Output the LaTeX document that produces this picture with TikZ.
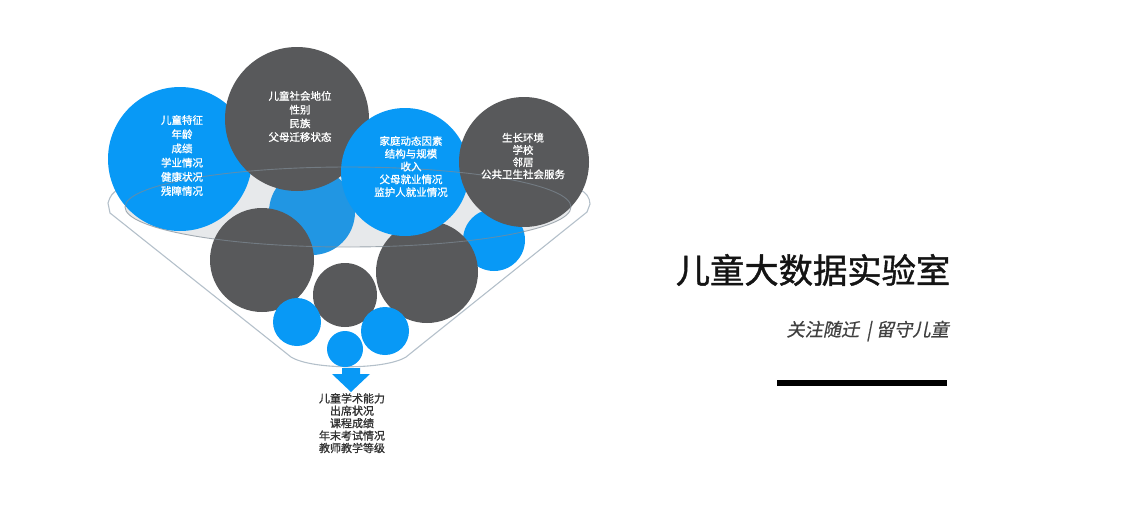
\documentclass[tikz,border=0pt]{standalone}
\usepackage{fontspec}
\setmainfont{Noto Sans CJK SC}
\newfontfamily\cjkit[FakeSlant=0.2,FakeBold=0.6]{Noto Sans CJK SC}
\newfontfamily\cjkb[FakeBold=1.2]{Noto Sans CJK SC}
\newfontfamily\cjkt[FakeBold=1.2]{Noto Sans CJK SC}
\definecolor{cblue}{HTML}{0899F6}
\definecolor{cdark}{HTML}{58595B}
\definecolor{cmid}{HTML}{2196E3}
\definecolor{crim}{HTML}{B4C0CA}
\definecolor{cfill}{HTML}{E7E9EB}
\definecolor{cline}{HTML}{7E8A94}
\tikzset{
  bub/.style={circle, inner sep=0pt, draw=none, minimum size=2*#1},
  bblue/.style={bub=#1, fill=cblue},
  bdark/.style={bub=#1, fill=cdark},
  ctext/.style={text=white, align=center, inner sep=0pt},
  rim/.style={draw=crim, line width=1.1pt},
}
\begin{document}
\begin{tikzpicture}[x=1pt,y=-1pt]
\useasboundingbox (0,0) rectangle (1140,520);
% funnel outline (behind circles)
\draw[rim] (108,203) .. controls (110,196) and (113,192) .. (118,190)
  .. controls (250,178) and (450,178) .. (580,190)
  .. controls (586,192) and (590,198) .. (590,204) -- (587,212) -- (406,357)
  .. controls (385,370) and (312,370) .. (291,357) -- (110,213) -- cycle;
% funnel inner ellipse fill
\fill[cfill] (348,207) ellipse [x radius=223, y radius=40];
% circles back to front
\node[bub=43, fill=cmid] (c5) at (312,212) {};
\node[bblue=31] (c8) at (494,240) {};
\node[bdark=52] (c6) at (262,260) {};
\node[bdark=51] (c7) at (427,272) {};
\node[bblue=72] (c1) at (180,159) {};
\node[bdark=72] (c2) at (297,119) {};
\node[bblue=64] (c3) at (405,172) {};
\node[bdark=65] (c4) at (524,162) {};
\node[bdark=32] (c9) at (345,295) {};
\node[bblue=24] (c10) at (297,322) {};
\node[bblue=24] (c11) at (385,331) {};
\node[bblue=18] (c12) at (345,349) {};
% inner ellipse stroke on top
\draw[cline, line width=0.9pt, opacity=0.7] (348,207) ellipse [x radius=223, y radius=40];
% circle texts
\node[ctext, font=\cjkb\fontsize{10.5}{14.2}\selectfont] (t1) at ([shift={(2,-3.5)}]c1.center)
  {儿童特征\\年龄\\成绩\\学业情况\\健康状况\\残障情况};
\node[ctext, font=\cjkb\fontsize{10.5}{13.7}\selectfont] (t2) at ([shift={(3,-2.5)}]c2.center)
  {儿童社会地位\\性别\\民族\\父母迁移状态};
\node[ctext, font=\cjkb\fontsize{10.5}{12.8}\selectfont] (t3) at ([shift={(6,-5.5)}]c3.center)
  {家庭动态因素\\结构与规模\\收入\\父母就业情况\\监护人就业情况};
\node[ctext, font=\cjkb\fontsize{10.5}{12.2}\selectfont] (t4) at ([shift={(-1,-6)}]c4.center)
  {生长环境\\学校\\邻居\\公共卫生社会服务};
% arrow
\fill[cblue] (342,368) -- (360,368) -- (360,374) -- (370,374) -- (351,392) -- (332,374) -- (342,374) -- cycle;
\node[align=center, inner sep=0pt, text=black!80, font=\cjkb\fontsize{11}{12.4}\selectfont, anchor=north] (out) at (352,393)
  {儿童学术能力\\出席状况\\课程成绩\\年末考试情况\\教师教学等级};
% right side
\node[inner sep=0pt, text=black!92, font=\cjkt\fontsize{34.3}{34.3}\selectfont] (title) at (813,270) {儿童大数据实验室};
\node[inner sep=0pt, anchor=east, text=black!75, font=\cjkit\fontsize{18.2}{18.2}\selectfont] (sub) at (949,331) {关注随迁\hspace{0.4em}|\hspace{0.25em}留守儿童};
\fill[black] (777,380) rectangle (947,386);
\end{tikzpicture}
\end{document}
